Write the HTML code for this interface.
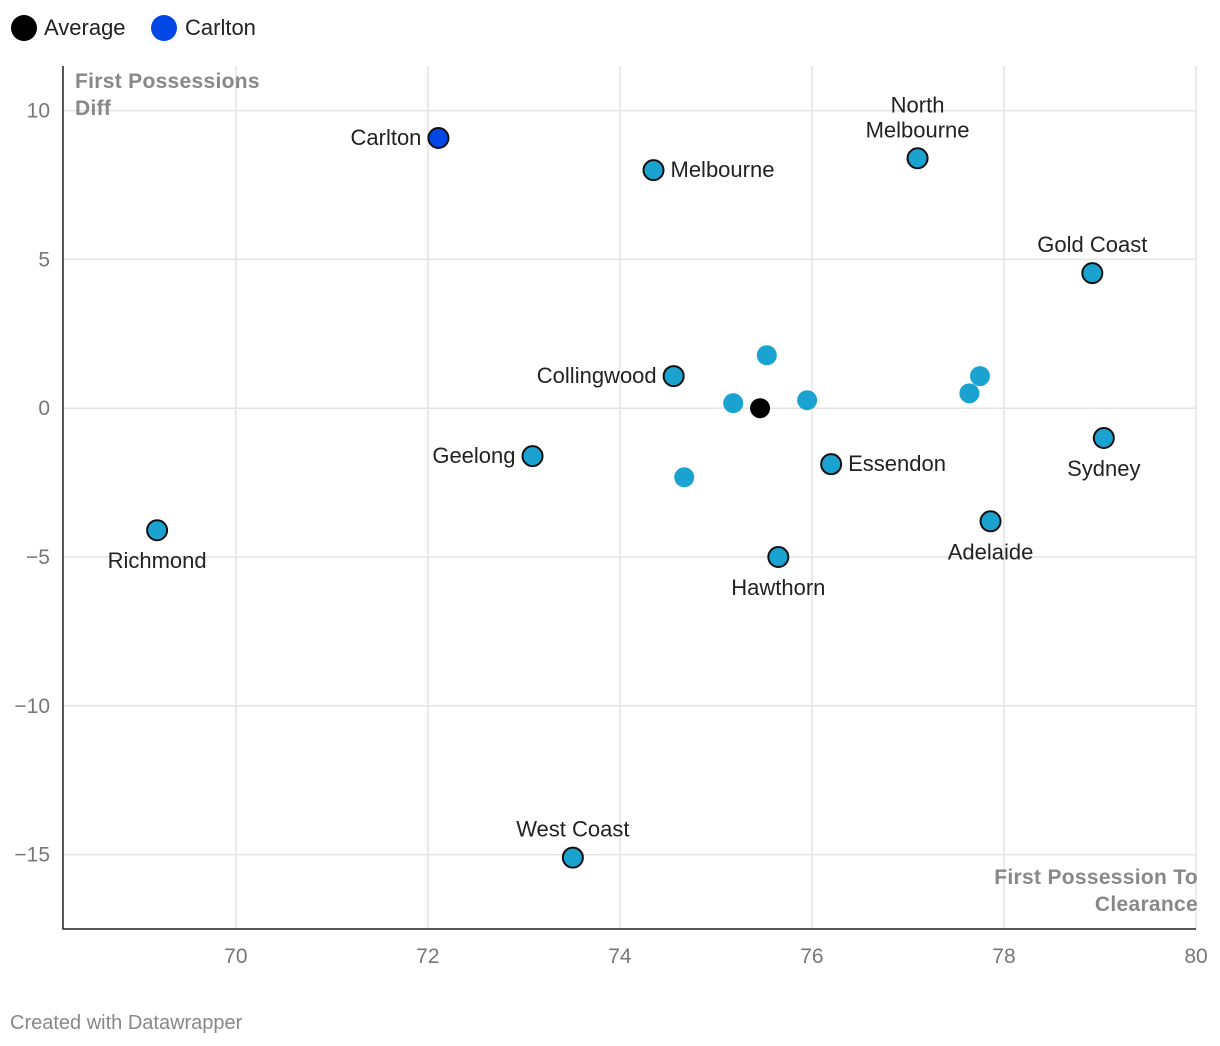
<!DOCTYPE html>
<html><head><meta charset="utf-8">
<style>
body{margin:0;background:#fff;font-family:"Liberation Sans",sans-serif;}
svg{display:block}
</style></head>
<body>
<svg id="c" width="1220" height="1046">
<g>
<circle cx="24" cy="28" r="13" fill="#000"/>
<text x="44" y="35" font-size="22" fill="#222">Average</text>
<circle cx="164" cy="28" r="13" fill="#0047e6"/>
<text x="185" y="35" font-size="22" fill="#222">Carlton</text>
</g>
<text x="10" y="1029" font-size="20" fill="#888">Created with Datawrapper</text>
</svg>
<script>
const xTicks=[70,72,74,76,78,80];
const yTicks=[10,5,0,-5,-10,-15];
const teams=["Carlton","Melbourne","North Melbourne","Gold Coast","Collingwood","Geelong","Richmond","Essendon","Sydney","Adelaide","Hawthorn","West Coast"];
const teamX=[72.11,74.35,77.10,78.92,74.56,73.09,69.18,76.20,79.04,77.86,75.65,73.51];
const teamY=[9.08,8.0,8.4,4.54,1.08,-1.61,-4.1,-1.88,-1.0,-3.8,-5.0,-15.1];
const otherX=[75.53,75.18,75.95,74.67,77.75,77.64];
const otherY=[1.78,0.17,0.27,-2.32,1.08,0.5];
const avgX=[75.46], avgY=[0];
const labelPos=["left","right","top","top","left","left","bottom","right","bottom","bottom","bottom","top"];
const svg=document.getElementById('c');
const NS="http://www.w3.org/2000/svg";
const X0=68.2,X1=80,Y0=-17.5,Y1=11.5,L=63,R=1196,T=66,B=929;
const sx=v=>L+(v-X0)/(X1-X0)*(R-L);
const sy=v=>B-(v-Y0)/(Y1-Y0)*(B-T);
function mk(t,a,p){const e=document.createElementNS(NS,t);for(const k in a)e.setAttribute(k,a[k]);(p||svg).appendChild(e);return e;}
const grid=mk('g',{});


xTicks.forEach(v=>{const l=mk('line',{x1:sx(v),x2:sx(v),y1:T,y2:B,stroke:'#e3e3e3','stroke-width':1.5},grid);


const t=mk('text',{x:sx(v),y:963,'text-anchor':'middle','font-size':21,fill:'#777'});t.textContent=v;

});
yTicks.forEach(v=>{const l=mk('line',{x1:L,x2:R,y1:sy(v),y2:sy(v),stroke:'#e3e3e3','stroke-width':1.5},grid);


const t=mk('text',{x:50,y:sy(v)+7,'text-anchor':'end','font-size':21,fill:'#777'});t.textContent=v<0?'\u2212'+(-v):v;

});
const ax=mk('path',{d:`M${L} ${T}V${B}H${R}`,fill:'none',stroke:'#222','stroke-width':1.5});


[["First Possessions",88,'start',75],["Diff",115,'start',75],["First Possession To",884,'end',1198],["Clearance",911,'end',1198]].forEach(a=>{
const t=mk('text',{x:a[3],y:a[1],'text-anchor':a[2],'font-size':21,'font-weight':'bold',fill:'#888','letter-spacing':'0.3'});t.textContent=a[0];

});
otherX.forEach((v,i)=>{const c=mk('circle',{cx:sx(v),cy:sy(otherY[i]),r:10,fill:'#1aa3d1'});

});
teams.forEach((n,i)=>{const x=sx(teamX[i]),y=sy(teamY[i]);
const c=mk('circle',{cx:x,cy:y,r:10,fill:n=="Carlton"?'#0047e6':'#1aa3d1',stroke:'#111','stroke-width':2});


const p=labelPos[i];const lines=n=="North Melbourne"?["North","Melbourne"]:[n];
let tx=x,ty=y+7,anc='middle';
if(p=="left"){tx=x-17;anc='end';}else if(p=="right"){tx=x+17;anc='start';}
else if(p=="top"){ty=y-21-(lines.length-1)*25;}else{ty=y+38;}
lines.forEach((s,k)=>{const t=mk('text',{x:tx,y:ty+k*25,'text-anchor':anc,'font-size':22,fill:'#222'});t.textContent=s;

});});
avgX.forEach((v,i)=>{const c=mk('circle',{cx:sx(v),cy:sy(avgY[i]),r:10,fill:'#000'});

});
</script>
</body></html>
